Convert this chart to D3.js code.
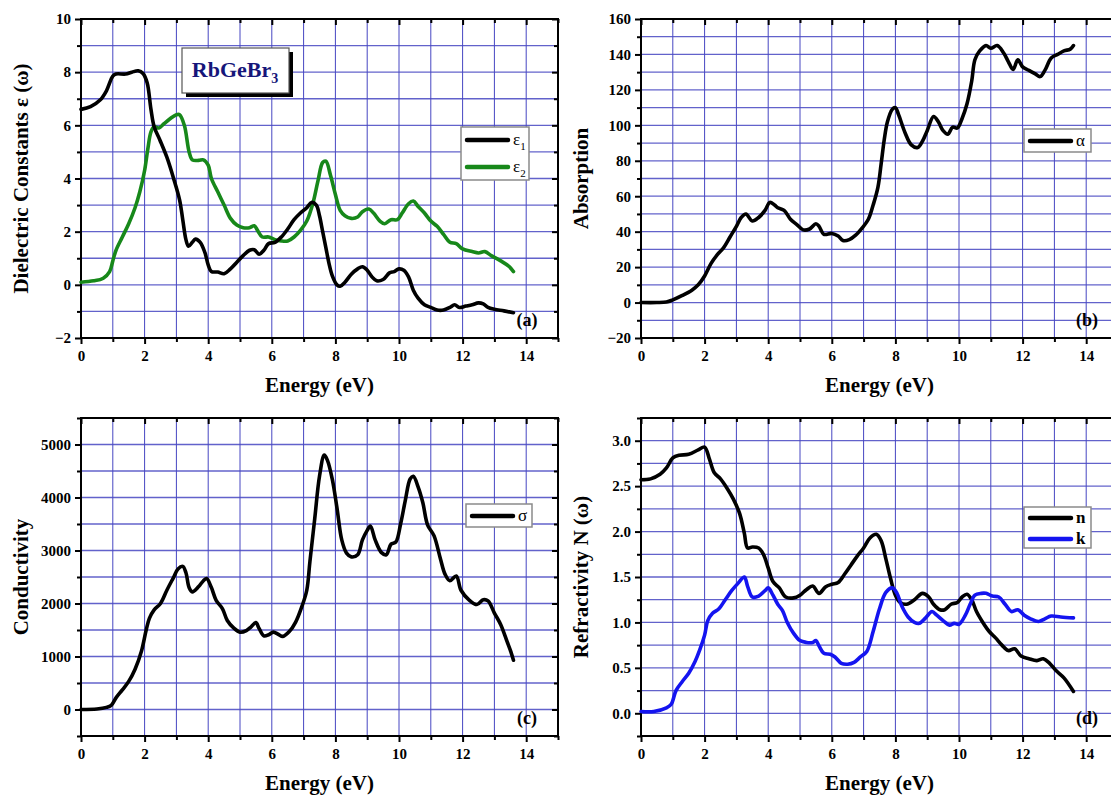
<!DOCTYPE html>
<html>
<head>
<meta charset="utf-8">
<script src="https://cdn.jsdelivr.net/npm/d3@7/dist/d3.min.js"></script>
<style>
  body { margin: 0; background: #fff; }
  svg { display: block; }
  text { font-family: "Liberation Serif", "DejaVu Serif", serif; }
</style>
</head>
<body>
<div id="chart"></div>
<script>
// ---- data (energy in eV, value) ----
var energyTicks = [0, 2, 4, 6, 8, 10, 12, 14];

var eps1 = [[0,6.6],[0.3,6.7],[0.6,6.95],[0.8,7.3],[1.0,7.85],[1.1,7.93],[1.4,7.93],[1.6,8.0],[1.8,8.05],[1.95,7.95],
  [2.08,7.6],[2.2,6.6],[2.3,5.95],[2.48,5.45],[2.7,4.8],[2.9,4.05],[3.1,3.2],[3.2,2.45],[3.3,1.7],[3.38,1.45],
  [3.5,1.6],[3.6,1.72],[3.75,1.6],[3.9,1.2],[4.0,0.75],[4.1,0.5],[4.3,0.48],[4.5,0.42],[4.7,0.6],[4.9,0.85],
  [5.1,1.1],[5.3,1.3],[5.45,1.32],[5.6,1.15],[5.75,1.3],[5.9,1.55],[6.1,1.6],[6.3,1.8],[6.5,2.1],[6.7,2.45],
  [6.9,2.7],[7.1,2.9],[7.25,3.1],[7.4,3.0],[7.5,2.6],[7.6,2.0],[7.7,1.4],[7.8,0.8],[7.9,0.35],[8.05,0.0],
  [8.15,-0.05],[8.3,0.1],[8.5,0.4],[8.7,0.6],[8.85,0.68],[9.0,0.55],[9.15,0.3],[9.3,0.15],[9.5,0.2],[9.7,0.45],
  [9.85,0.5],[10.0,0.6],[10.15,0.55],[10.3,0.3],[10.45,-0.2],[10.6,-0.5],[10.8,-0.75],[11.0,-0.85],[11.2,-0.95],
  [11.4,-0.95],[11.6,-0.85],[11.75,-0.75],[11.9,-0.85],[12.1,-0.8],[12.3,-0.75],[12.5,-0.68],[12.65,-0.72],
  [12.8,-0.85],[13.0,-0.92],[13.3,-0.98],[13.6,-1.05]];

var eps2 = [[0,0.1],[0.4,0.15],[0.7,0.25],[0.9,0.5],[1.0,0.9],[1.1,1.3],[1.3,1.8],[1.5,2.3],[1.7,2.9],[1.85,3.5],
  [2.0,4.3],[2.1,5.1],[2.2,5.75],[2.3,5.95],[2.45,5.9],[2.6,6.05],[2.8,6.25],[3.0,6.4],[3.1,6.4],[3.25,6.0],
  [3.4,5.0],[3.5,4.7],[3.7,4.68],[3.85,4.7],[4.0,4.5],[4.1,4.0],[4.3,3.5],[4.5,3.0],[4.7,2.5],[4.9,2.25],
  [5.1,2.15],[5.3,2.15],[5.45,2.22],[5.55,2.05],[5.7,1.8],[5.9,1.8],[6.1,1.7],[6.3,1.65],[6.5,1.65],[6.7,1.8],
  [6.9,2.05],[7.1,2.4],[7.3,3.1],[7.45,3.9],[7.6,4.6],[7.7,4.65],[7.85,4.1],[8.0,3.4],[8.15,2.8],[8.3,2.6],
  [8.5,2.5],[8.7,2.55],[8.85,2.75],[9.05,2.85],[9.2,2.7],[9.4,2.4],[9.55,2.3],[9.75,2.45],[9.95,2.45],[10.1,2.7],
  [10.3,3.05],[10.45,3.15],[10.6,2.95],[10.8,2.7],[11.0,2.4],[11.2,2.2],[11.4,1.9],[11.6,1.6],[11.8,1.55],
  [12.0,1.35],[12.3,1.25],[12.5,1.2],[12.7,1.25],[12.9,1.1],[13.2,0.9],[13.45,0.7],[13.6,0.5]];

var alpha = [[0,0],[0.5,0],[0.8,0.3],[1.0,1.5],[1.3,4],[1.6,7],[1.8,10],[2.0,15],[2.2,22],[2.4,27],[2.6,31],
  [2.8,37],[3.0,43],[3.15,48],[3.3,50],[3.5,46],[3.7,48],[3.9,52],[4.05,56.5],[4.2,55],[4.3,53.5],[4.5,52],
  [4.7,47],[4.9,44],[5.1,41],[5.3,41.5],[5.5,44.5],[5.6,43],[5.75,38.5],[6.0,39],[6.2,37.5],[6.35,35],[6.55,35.5],
  [6.75,38],[6.95,42],[7.15,47],[7.3,55],[7.45,65],[7.55,78],[7.65,92],[7.75,102],[7.9,109],[8.0,110],[8.1,106],
  [8.3,96],[8.5,89],[8.7,87.5],[8.85,91],[9.0,97],[9.2,105],[9.35,102],[9.5,97],[9.65,95],[9.8,99],[9.95,98.5],
  [10.1,104],[10.25,112],[10.4,125],[10.5,137],[10.65,142],[10.85,145],[11.0,143.5],[11.2,145],[11.4,141],
  [11.55,136],[11.7,131.5],[11.85,137],[12.0,133],[12.2,131],[12.4,129],[12.55,127.5],[12.7,131],[12.9,138],
  [13.1,140],[13.3,142],[13.5,143],[13.6,145]];

var sigma = [[0,0],[0.5,10],[0.8,40],[0.95,80],[1.1,220],[1.3,370],[1.5,530],[1.7,760],[1.9,1100],[2.05,1500],
  [2.15,1720],[2.3,1880],[2.5,2000],[2.7,2250],[2.9,2480],[3.05,2650],[3.2,2700],[3.3,2580],[3.4,2300],[3.5,2220],
  [3.7,2320],[3.85,2430],[3.95,2470],[4.1,2300],[4.25,2060],[4.45,1900],[4.6,1680],[4.8,1540],[5.0,1460],
  [5.2,1490],[5.35,1560],[5.5,1640],[5.6,1530],[5.75,1390],[5.9,1410],[6.05,1460],[6.2,1420],[6.35,1380],
  [6.55,1470],[6.75,1650],[6.95,1950],[7.1,2250],[7.2,2800],[7.35,3600],[7.5,4400],[7.65,4800],[7.75,4700],
  [7.9,4350],[8.05,3800],[8.2,3200],[8.35,2950],[8.5,2880],[8.7,2920],[8.85,3200],[9.0,3380],[9.1,3460],
  [9.25,3200],[9.45,2960],[9.6,2920],[9.75,3120],[9.9,3160],[10.05,3500],[10.2,3950],[10.35,4350],[10.45,4400],
  [10.6,4200],[10.75,3900],[10.9,3480],[11.1,3280],[11.3,2850],[11.45,2550],[11.6,2430],[11.8,2520],[11.95,2250],
  [12.2,2070],[12.45,1980],[12.65,2070],[12.8,2050],[13.0,1820],[13.2,1600],[13.4,1280],[13.5,1120],[13.6,930]];

var nIndex = [[0,2.57],[0.3,2.58],[0.6,2.63],[0.8,2.70],[1.0,2.81],[1.2,2.84],[1.5,2.85],[1.8,2.9],[2.0,2.93],
  [2.15,2.8],[2.3,2.65],[2.5,2.58],[2.7,2.48],[2.9,2.36],[3.1,2.2],[3.25,1.98],[3.35,1.82],[3.5,1.83],[3.7,1.82],
  [3.85,1.75],[4.0,1.6],[4.15,1.45],[4.35,1.38],[4.55,1.28],[4.8,1.27],[5.0,1.3],[5.2,1.36],[5.4,1.4],[5.6,1.32],
  [5.8,1.39],[6.0,1.42],[6.2,1.44],[6.4,1.53],[6.6,1.63],[6.8,1.73],[7.0,1.82],[7.2,1.93],[7.4,1.97],[7.55,1.9],
  [7.7,1.7],[7.85,1.48],[8.0,1.3],[8.15,1.22],[8.35,1.2],[8.6,1.25],[8.85,1.32],[9.05,1.28],[9.2,1.2],[9.4,1.14],
  [9.55,1.14],[9.75,1.2],[9.95,1.22],[10.1,1.28],[10.25,1.31],[10.4,1.25],[10.55,1.12],[10.75,1.0],[10.95,0.9],
  [11.15,0.83],[11.35,0.75],[11.55,0.69],[11.75,0.71],[11.95,0.63],[12.2,0.6],[12.45,0.58],[12.65,0.6],
  [12.85,0.55],[13.05,0.47],[13.3,0.39],[13.6,0.24]];

var kIndex = [[0,0.02],[0.4,0.02],[0.8,0.06],[0.95,0.1],[1.1,0.25],[1.3,0.35],[1.5,0.44],[1.7,0.57],[1.85,0.7],
  [2.0,0.86],[2.1,1.02],[2.25,1.1],[2.45,1.15],[2.65,1.25],[2.85,1.35],[3.05,1.43],[3.25,1.5],[3.35,1.4],[3.5,1.28],
  [3.7,1.29],[3.9,1.35],[4.0,1.38],[4.15,1.3],[4.3,1.2],[4.45,1.13],[4.6,1.0],[4.8,0.88],[5.0,0.8],[5.2,0.78],
  [5.4,0.78],[5.5,0.8],[5.6,0.74],[5.75,0.66],[5.95,0.65],[6.1,0.62],[6.3,0.55],[6.5,0.54],[6.7,0.56],[6.9,0.62],
  [7.1,0.68],[7.3,0.9],[7.5,1.15],[7.7,1.33],[7.9,1.38],[8.05,1.32],[8.2,1.18],[8.4,1.06],[8.6,1.0],[8.75,0.99],
  [8.95,1.05],[9.15,1.12],[9.3,1.08],[9.5,1.02],[9.7,0.97],[9.85,0.99],[10.0,0.98],[10.2,1.08],[10.35,1.2],
  [10.5,1.3],[10.7,1.32],[10.85,1.32],[11.05,1.29],[11.25,1.28],[11.45,1.2],[11.65,1.12],[11.85,1.14],[12.05,1.08],
  [12.25,1.04],[12.5,1.01],[12.7,1.04],[12.9,1.07],[13.2,1.06],[13.6,1.05]];

var gridColor = "#4646c2";

var svg = d3.select("#chart").append("svg")
  .attr("width", 1111)
  .attr("height", 796);

function steps(lo, hi, step) {
  var n = Math.round((hi - lo) / step);
  return d3.range(0, n + 1).map(function (i) { return +(lo + i * step).toFixed(4); });
}

function panel(p) {
  var x = d3.scaleLinear().domain([0, 15]).range([p.left, p.left + 15 * 31.8]);
  var y = d3.scaleLinear().domain(p.yDomain).range([p.bottom, p.top]);
  var g = svg.append("g");
  var right = x(15);

  // grid
  g.append("g").selectAll("line")
    .data(steps(1, 14, 1))
    .join("line")
    .attr("x1", d => x(d)).attr("x2", d => x(d))
    .attr("y1", p.top).attr("y2", p.bottom)
    .attr("stroke", gridColor).attr("stroke-width", 1);
  g.append("g").selectAll("line")
    .data(steps(p.yDomain[0], p.yDomain[1], p.yGrid).slice(1, -1))
    .join("line")
    .attr("x1", p.left).attr("x2", right)
    .attr("y1", d => y(d)).attr("y2", d => y(d))
    .attr("stroke", gridColor).attr("stroke-opacity", 0.85).attr("stroke-width", 1.3);

  // axes: major ticks labelled, minor ticks between
  var yMajor = steps(p.yLabels[0], p.yLabels[1], p.yGrid * 2);
  var yMinor = steps(p.yDomain[0], p.yDomain[1], p.yGrid).filter(v => yMajor.indexOf(v) < 0);
  var xMinor = steps(1, 15, 2);

  function styleAxis(sel) {
    sel.select(".domain").remove();
    sel.selectAll("line").attr("stroke", "#000").attr("stroke-width", 2);
    sel.selectAll("text")
      .attr("font-size", 15).attr("font-weight", "bold").attr("fill", "#000")
      .attr("font-family", "'Liberation Serif', serif");
  }

  g.append("g").attr("transform", "translate(0," + p.bottom + ")")
    .call(d3.axisBottom(x).tickValues(energyTicks).tickSize(6).tickPadding(6).tickFormat(d3.format("d")))
    .call(styleAxis);
  g.append("g").attr("transform", "translate(0," + p.bottom + ")")
    .call(d3.axisBottom(x).tickValues(xMinor).tickSize(4).tickFormat(""))
    .call(styleAxis);
  g.append("g").attr("transform", "translate(0," + p.top + ")")
    .call(d3.axisTop(x).tickValues(energyTicks).tickSize(-6).tickFormat(""))
    .call(styleAxis);
  g.append("g").attr("transform", "translate(0," + p.top + ")")
    .call(d3.axisTop(x).tickValues(xMinor).tickSize(-4).tickFormat(""))
    .call(styleAxis);

  g.append("g").attr("transform", "translate(" + p.left + ",0)")
    .call(d3.axisLeft(y).tickValues(yMajor).tickSize(6).tickPadding(4).tickFormat(p.yFormat))
    .call(styleAxis);
  g.append("g").attr("transform", "translate(" + p.left + ",0)")
    .call(d3.axisLeft(y).tickValues(yMinor).tickSize(4).tickFormat(""))
    .call(styleAxis);
  g.append("g").attr("transform", "translate(" + right + ",0)")
    .call(d3.axisRight(y).tickValues(yMajor).tickSize(-6).tickFormat(""))
    .call(styleAxis);
  g.append("g").attr("transform", "translate(" + right + ",0)")
    .call(d3.axisRight(y).tickValues(yMinor).tickSize(-4).tickFormat(""))
    .call(styleAxis);

  // frame
  g.append("rect")
    .attr("x", p.left).attr("y", p.top)
    .attr("width", right - p.left).attr("height", p.bottom - p.top)
    .attr("fill", "none").attr("stroke", "#000").attr("stroke-width", 2);

  // curves
  var line = d3.line()
    .x(d => x(d[0]))
    .y(d => y(d[1]))
    .curve(d3.curveCatmullRom.alpha(0.5));
  p.series.forEach(function (s) {
    g.append("path")
      .datum(s.data)
      .attr("d", line)
      .attr("fill", "none")
      .attr("stroke", s.color)
      .attr("stroke-width", 3.6)
      .attr("stroke-linejoin", "round")
      .attr("stroke-linecap", "round");
  });

  // axis titles
  var xMid = (p.left + right) / 2;
  g.append("text")
    .attr("x", xMid).attr("y", p.bottom + 54)
    .attr("text-anchor", "middle")
    .attr("font-size", 21).attr("font-weight", "bold")
    .text("Energy (eV)");
  g.append("text")
    .attr("transform", "translate(" + (p.left - 53) + "," + ((p.top + p.bottom) / 2) + ") rotate(-90)")
    .attr("text-anchor", "middle")
    .attr("font-size", 21).attr("font-weight", "bold")
    .text(p.yTitle);

  // panel tag
  g.append("text")
    .attr("x", right - 31).attr("y", p.bottom - 12)
    .attr("text-anchor", "middle")
    .attr("font-size", 18).attr("font-weight", "bold")
    .text(p.tag);

  // legend
  var L = p.legend;
  g.append("rect")
    .attr("x", L.x).attr("y", L.y).attr("width", L.w).attr("height", L.h)
    .attr("fill", "#fff").attr("stroke", "#8a8a8a").attr("stroke-width", 1.5);
  L.items.forEach(function (it, i) {
    var ly = L.y + L.first + i * L.gap;
    g.append("line")
      .attr("x1", L.x + 6).attr("x2", L.x + 47)
      .attr("y1", ly).attr("y2", ly)
      .attr("stroke", it.color).attr("stroke-width", 4.5).attr("stroke-linecap", "round");
    var t = g.append("text")
      .attr("x", L.x + 52).attr("y", ly + 5)
      .attr("font-size", 17)
      .attr("font-weight", it.bold ? "bold" : "normal");
    t.append("tspan").text(it.label);
    if (it.sub) {
      t.append("tspan").attr("dy", 5).attr("font-size", 11).text(it.sub);
    }
  });
  return { x: x, y: y };
}

panel({
  left: 81, top: 19, bottom: 338,
  yDomain: [-2, 10], yGrid: 1, yLabels: [-2, 10], yFormat: d3.format("d"),
  yTitle: "Dielectric Constants \u03b5 (\u03c9)", tag: "(a)",
  series: [{ data: eps2, color: "#17881a" }, { data: eps1, color: "#000" }],
  legend: { x: 461, y: 127, w: 68, h: 53, first: 13, gap: 27, items: [
    { label: "\u03b5", sub: "1", color: "#000" },
    { label: "\u03b5", sub: "2", color: "#17881a" }] }
});

panel({
  left: 641, top: 19, bottom: 338,
  yDomain: [-20, 160], yGrid: 10, yLabels: [-20, 160], yFormat: d3.format("d"),
  yTitle: "Absorption", tag: "(b)",
  series: [{ data: alpha, color: "#000" }],
  legend: { x: 1024, y: 129, w: 67, h: 23, first: 12, gap: 0, items: [
    { label: "\u03b1", color: "#000" }] }
});

panel({
  left: 81, top: 418, bottom: 736,
  yDomain: [-500, 5500], yGrid: 500, yLabels: [0, 5000], yFormat: d3.format("d"),
  yTitle: "Conductivity", tag: "(c)",
  series: [{ data: sigma, color: "#000" }],
  legend: { x: 466, y: 504, w: 66, h: 23, first: 12, gap: 0, items: [
    { label: "\u03c3", color: "#000" }] }
});

panel({
  left: 641, top: 418, bottom: 736,
  yDomain: [-0.25, 3.25], yGrid: 0.25, yLabels: [0, 3], yFormat: d3.format(".1f"),
  yTitle: "Refractivity N (\u03c9)", tag: "(d)",
  series: [{ data: nIndex, color: "#000" }, { data: kIndex, color: "#1414f0" }],
  legend: { x: 1024, y: 507, w: 67, h: 41, first: 11, gap: 21, items: [
    { label: "n", color: "#000", bold: true },
    { label: "k", color: "#1414f0", bold: true }] }
});

// compound label box with drop shadow
var tb = svg.append("g");
tb.append("rect").attr("x", 186).attr("y", 52).attr("width", 107).attr("height", 45).attr("fill", "#000");
tb.append("rect").attr("x", 182).attr("y", 48).attr("width", 107).attr("height", 45)
  .attr("fill", "#fff").attr("stroke", "#555").attr("stroke-width", 1.2);
var tt = tb.append("text")
  .attr("x", 235).attr("y", 77)
  .attr("text-anchor", "middle")
  .attr("font-size", 22).attr("font-weight", "bold").attr("fill", "#16167a");
tt.append("tspan").text("RbGeBr");
tt.append("tspan").attr("dy", 6).attr("font-size", 14).text("3");
</script>
</body>
</html>
